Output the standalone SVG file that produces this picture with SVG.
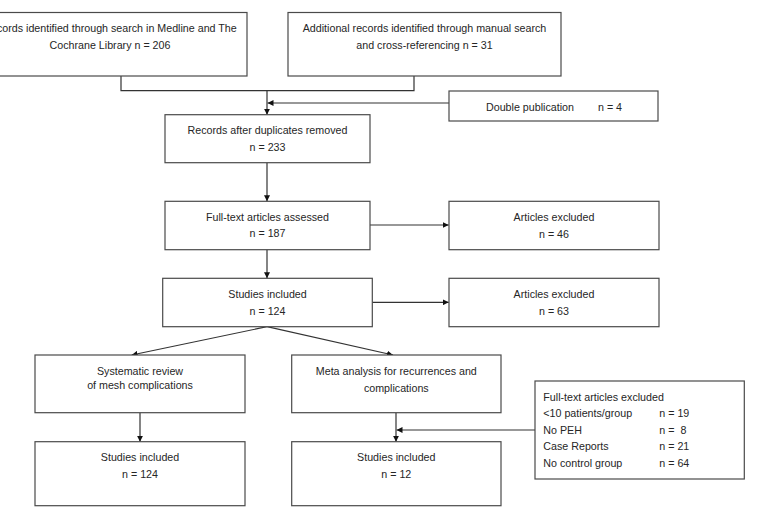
<svg xmlns="http://www.w3.org/2000/svg" width="762" height="513" viewBox="0 0 762 513">
<style>
rect{fill:#fff;stroke:#4a4a4a;stroke-width:1.2}
text{font-family:"Liberation Sans",Arial,sans-serif;font-size:10.7px;fill:#262626}
.c{text-anchor:middle}
.ln{fill:none;stroke:#333;stroke-width:1.2}
</style>
<defs>
<marker id="ah" viewBox="0 0 10 10" refX="10" refY="5" markerWidth="6" markerHeight="6" markerUnits="userSpaceOnUse" orient="auto"><path d="M0,0 L10,5 L0,10 z" fill="#111"/></marker>
</defs>
<rect width="762" height="513" style="fill:#fff;stroke:none"/>
<g id="connectors">
<polyline class="ln" points="121,76 121,90.7 414,90.7 414,76"/>
<line class="ln" x1="267" y1="90.7" x2="267" y2="114.7" marker-end="url(#ah)"/>
<line class="ln" x1="449" y1="103" x2="267.5" y2="103" marker-end="url(#ah)"/>
<line class="ln" x1="267" y1="162.7" x2="267" y2="201.3" marker-end="url(#ah)"/>
<line class="ln" x1="370" y1="225" x2="448.7" y2="225" marker-end="url(#ah)"/>
<line class="ln" x1="267" y1="249.7" x2="267" y2="278.3" marker-end="url(#ah)"/>
<line class="ln" x1="372.3" y1="302.3" x2="448.7" y2="302.3" marker-end="url(#ah)"/>
<line class="ln" x1="267" y1="326.7" x2="131.7" y2="355" marker-end="url(#ah)"/>
<line class="ln" x1="267" y1="326.7" x2="393" y2="355" marker-end="url(#ah)"/>
<line class="ln" x1="140" y1="412.7" x2="140" y2="441.7" marker-end="url(#ah)"/>
<line class="ln" x1="396" y1="412.7" x2="396" y2="441.7" marker-end="url(#ah)"/>
<line class="ln" x1="535" y1="430" x2="396.5" y2="430" marker-end="url(#ah)"/>
</g>
<g id="n1">
<rect x="-27" y="12.5" width="274" height="63.5"/>
<text class="c" x="110" y="31.5">Records identified through search in Medline and The</text>
<text class="c" x="110" y="48.5">Cochrane Library n = 206</text>
</g>
<g id="n2">
<rect x="288" y="12.5" width="273" height="63.5"/>
<text class="c" x="424.5" y="31.5">Additional records identified through manual search</text>
<text class="c" x="424.5" y="48.5">and cross-referencing n = 31</text>
</g>
<g id="n3">
<rect x="449" y="91" width="209" height="30"/>
<text x="486" y="111">Double publication</text>
<text x="598" y="111">n = 4</text>
</g>
<g id="n4">
<rect x="165" y="114.7" width="205" height="48"/>
<text class="c" x="267.5" y="134">Records after duplicates removed</text>
<text class="c" x="267.5" y="151">n = 233</text>
</g>
<g id="n5">
<rect x="165" y="201.3" width="205" height="48.4"/>
<text class="c" x="267.5" y="220.5">Full-text articles assessed</text>
<text class="c" x="267.5" y="237">n = 187</text>
</g>
<g id="n6">
<rect x="449" y="201.3" width="210" height="48.4"/>
<text class="c" x="554" y="220.5">Articles excluded</text>
<text class="c" x="554" y="237.5">n = 46</text>
</g>
<g id="n7">
<rect x="162.7" y="278.3" width="209.6" height="48.4"/>
<text class="c" x="267.5" y="298">Studies included</text>
<text class="c" x="267.5" y="314.5">n = 124</text>
</g>
<g id="n8">
<rect x="449" y="278.3" width="210" height="48.4"/>
<text class="c" x="554" y="298">Articles excluded</text>
<text class="c" x="554" y="314.5">n = 63</text>
</g>
<g id="n9">
<rect x="35" y="355" width="210" height="57.7"/>
<text class="c" x="140" y="375">Systematic review</text>
<text class="c" x="140" y="389">of mesh complications</text>
</g>
<g id="n10">
<rect x="291.7" y="355" width="209.3" height="57.7"/>
<text class="c" x="396.3" y="375">Meta analysis for recurrences and</text>
<text class="c" x="396.3" y="391.5">complications</text>
</g>
<g id="n11">
<rect x="35" y="441.7" width="210" height="64"/>
<text class="c" x="140" y="461">Studies included</text>
<text class="c" x="140" y="478">n = 124</text>
</g>
<g id="n12">
<rect x="291.7" y="441.7" width="209.3" height="64"/>
<text class="c" x="396.3" y="461">Studies included</text>
<text class="c" x="396.3" y="478">n = 12</text>
</g>
<g id="n13">
<rect x="535" y="381" width="209.3" height="98"/>
<text x="543.3" y="400.5">Full-text articles excluded</text>
<text x="543.3" y="417">&lt;10 patients/group</text>
<text x="659.3" y="417">n = 19</text>
<text x="543.3" y="433.5">No PEH</text>
<text x="659.3" y="433.5" xml:space="preserve">n =  8</text>
<text x="543.3" y="450">Case Reports</text>
<text x="659.3" y="450">n = 21</text>
<text x="543.3" y="466.5">No control group</text>
<text x="659.3" y="466.5">n = 64</text>
</g>
</svg>
